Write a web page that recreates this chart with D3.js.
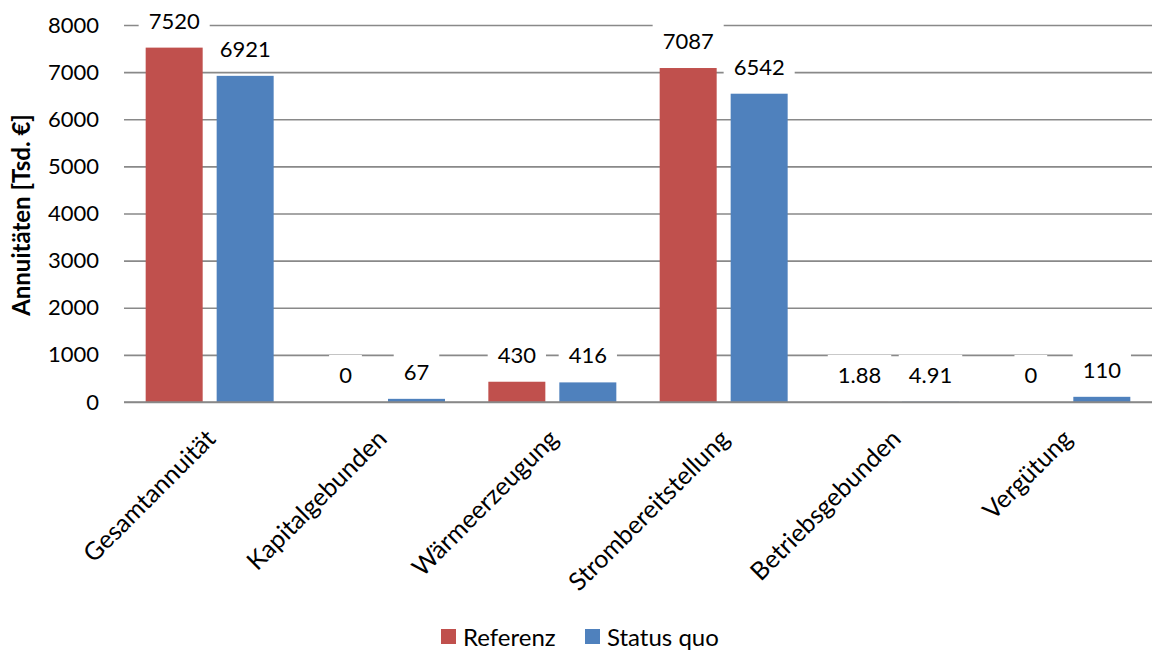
<!DOCTYPE html>
<html><head><meta charset="utf-8">
<script src="https://cdn.jsdelivr.net/npm/d3@7"></script>
<style>
body{margin:0;background:#fff;}
text{font-family:Lato, "Open Sans", sans-serif;fill:#000;}
</style></head>
<body><svg id="c" width="1158" height="653"></svg>
<script>
const categories = ["Gesamtannuität","Kapitalgebunden","Wärmeerzeugung","Strombereitstellung","Betriebsgebunden","Vergütung"];
const seriesNames = ["Referenz","Status quo"];
const referenz = [7520, 0, 430, 7087, 1.88, 0];
const statusQuo = [6921, 67, 416, 6542, 4.91, 110];
const labelsRef = ["7520","0","430","7087","1.88","0"];
const labelsSQ = ["6921","67","416","6542","4.91","110"];
const yTicks = [0,1000,2000,3000,4000,5000,6000,7000,8000];
const colors = ["#C0504D","#4F81BD"];

const svg = d3.select("#c");
const mLeft = 124, mRight = 1152, mTop = 25, mBottom = 402;
const y = d3.scaleLinear().domain([0,8000]).range([mBottom, mTop]);
const x0 = d3.scaleBand().domain(categories).range([mLeft,mRight]).paddingInner(0.253).paddingOuter(0.1265);
const x1 = d3.scaleBand().domain(seriesNames).range([0, x0.bandwidth()]).paddingInner(0.197).paddingOuter(0);

// gridlines
const gy = d3.axisLeft(y).tickValues(yTicks).tickSize(-(mRight-mLeft)).tickFormat(d3.format("d"));
const ga = svg.append("g").attr("transform",`translate(${mLeft},0)`).call(gy);
ga.select(".domain").remove();
ga.selectAll(".tick line").attr("stroke","#898989").attr("stroke-width",1.6);
ga.selectAll(".tick text").attr("x",-25).attr("font-size","22px").attr("fill","#000");

// y title
svg.append("text").attr("transform",`translate(30,215) rotate(-90)`)
  .attr("text-anchor","middle").attr("font-size","24px").attr("font-weight","bold").text("Annuitäten [Tsd. €]");

const rows = categories.map((c,i)=>({c, vals:[{s:seriesNames[0],v:referenz[i],l:labelsRef[i]},{s:seriesNames[1],v:statusQuo[i],l:labelsSQ[i]}]}));

const g = svg.append("g");
const grp = g.selectAll("g.grp").data(rows).join("g").attr("class","grp").attr("transform",d=>`translate(${x0(d.c)},0)`);
grp.selectAll("rect.bar").data(d=>d.vals).join("rect").attr("class","bar")
  .attr("x",d=>x1(d.s)).attr("width",x1.bandwidth())
  .attr("y",d=>y(d.v)).attr("height",d=>mBottom-y(d.v))
  .attr("fill",(d,i)=>colors[i]);

// baseline
svg.append("line").attr("x1",mLeft).attr("x2",mRight).attr("y1",mBottom).attr("y2",mBottom).attr("stroke","#898989").attr("stroke-width",1.6);

// data labels
const lg = grp.selectAll("g.lab").data(d=>d.vals).join("g").attr("class","lab")
  .attr("transform",d=>`translate(${x1(d.s)+x1.bandwidth()/2},${y(d.v)-27})`);
lg.append("rect").attr("fill","#fff");
lg.append("text").attr("text-anchor","middle").attr("dy","0.36em").attr("font-size","22px").text(d=>d.l);
lg.each(function(){
  const t = d3.select(this).select("text").node();
  const w = t.getComputedTextLength();
  d3.select(this).select("rect").attr("x",-w/2-10).attr("width",w+20).attr("y",-20).attr("height",40);
});

// x labels
svg.selectAll("text.xl").data(categories).join("text").attr("class","xl")
  .attr("transform",d=>`translate(${x0(d)+x0.bandwidth()/2-5},${mBottom+26}) rotate(-45)`)
  .attr("text-anchor","end").attr("dy","0.7em").attr("font-size","25px").text(d=>d);

// legend
const leg = svg.append("g");
const items = [{n:"Referenz",c:colors[0],x:441},{n:"Status quo",c:colors[1],x:585}];
const li = leg.selectAll("g").data(items).join("g").attr("transform",d=>`translate(${d.x},629)`);
li.append("rect").attr("width",15).attr("height",15).attr("fill",d=>d.c);
li.append("text").attr("x",22).attr("y",8).attr("dy","0.36em").attr("font-size","24px").text(d=>d.n);
</script></body></html>
